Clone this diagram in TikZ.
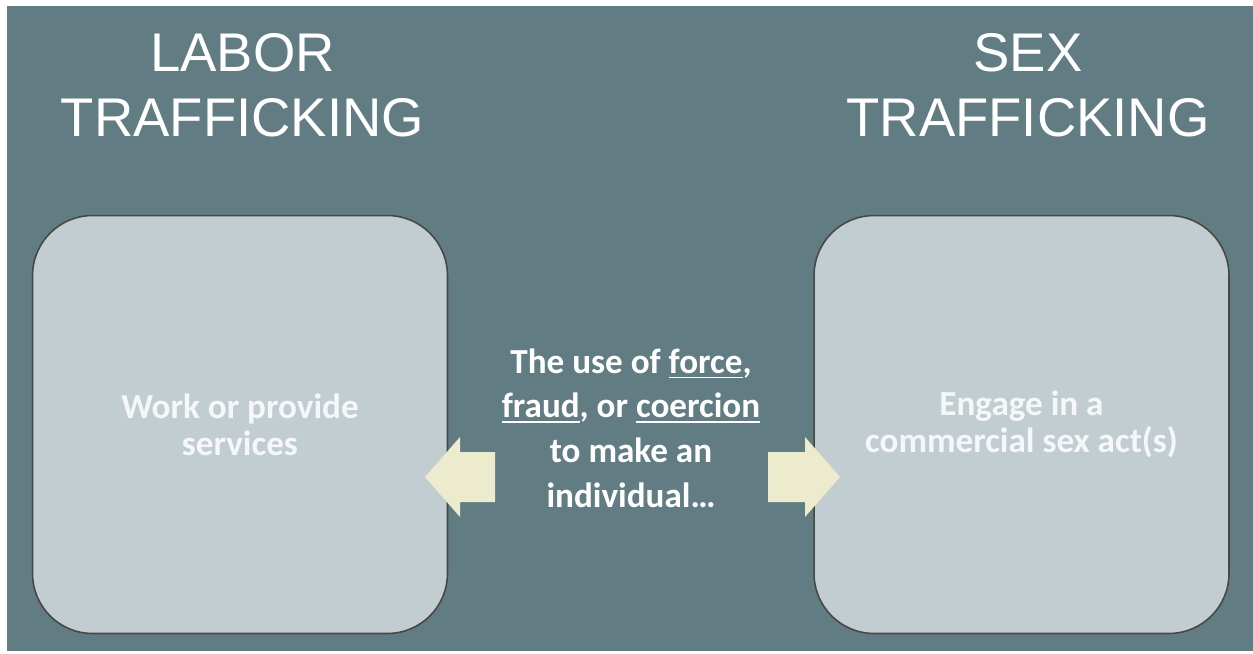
\documentclass[tikz,border=0pt]{standalone}
\usepackage{fontspec}
\setmainfont{Carlito}
\newfontfamily\titlefont{Liberation Sans}
\usetikzlibrary{calc}
\definecolor{slate}{RGB}{98,124,131}
\definecolor{boxgray}{RGB}{194,205,210}
\definecolor{boxline}{RGB}{72,72,66}
\definecolor{cream}{RGB}{237,235,205}
\definecolor{paletext}{RGB}{245,247,248}
\newcommand{\thickul}[1]{\setbox0\hbox{#1}\rlap{\vrule width\wd0 height -2.0pt depth 3.1pt}\box0}

\begin{document}
\begin{tikzpicture}[x=0.02cm,y=-0.02cm,
    title/.style={text=white,align=center,font=\titlefont\fontsize{31}{37}\selectfont},
    card/.style={draw=boxline,line width=0.9pt,fill=boxgray,rounded corners=1.2cm,
        minimum width=8.3cm,minimum height=8.36cm,align=center,text=paletext,
        font=\bfseries\fontsize{20}{21}\selectfont},
    pointer/.style={fill=cream}]
%\draw[help lines,step=50] (0,0) grid (1253,653);
\useasboundingbox (0,0) rectangle (1253,653);
\fill[white] (0,0) rectangle (1253,653);
\fill[slate] (7,6) rectangle (1253,651);
\node[title] (labortitle) at (242.5,85.5) {LABOR\\TRAFFICKING};
\node[title] (sextitle) at (1028,85.5) {SEX\\TRAFFICKING};
\node[card] (labor) at (240,424.5) {Work or provide\\services};
\node[card] (sex) at (1021.5,424.5) {Engage in a\\commercial sex act(s)};
\fill[pointer] (425,477) -- (460,437) -- (460,452) -- (495,452)
    -- (495,502) -- (460,502) -- (460,517) -- cycle;
\fill[pointer] (840,477) -- (805,437) -- (805,452) -- (768,452)
    -- (768,502) -- (805,502) -- (805,517) -- cycle;
\node[text=white,align=center,font=\bfseries\fontsize{20}{25.5}\selectfont] (means) at (631,428)
    {The use of \thickul{force},\\\thickul{fraud}, or \thickul{coercion}\\to make an\\individual\dots};
\end{tikzpicture}
\end{document}
